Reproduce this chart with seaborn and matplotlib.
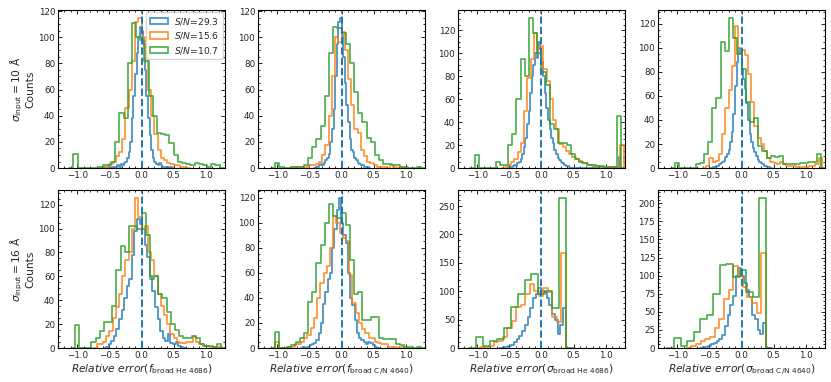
import numpy as np
import pandas as pd
import matplotlib
matplotlib.use("Agg")
import matplotlib.pyplot as plt
import seaborn as sns
from matplotlib.patches import Patch
from matplotlib.ticker import AutoMinorLocator

# S/N of the three mock sets (blue, orange, green)
sn_values = ["29.3", "15.6", "10.7"]
colors = ["#1f77b4", "#ff7f0e", "#2ca02c"]

# ---- counts (sigma_input = 10 A, top row) ----
fhe10_blue = [1, 0, 0, 1, 0, 1, 0, 1, 1, 2, 1, 3, 2, 4, 5, 8, 12, 20, 38, 55, 72, 88, 100, 108,
              105, 95, 75, 55, 38, 25, 14, 8, 5, 3, 2, 4, 2, 1, 1, 0, 1, 0, 1]
fhe10_orange = [1, 1, 3, 5, 9, 12, 22, 46, 60, 82, 112, 115, 100, 84, 60, 40, 26, 14, 8, 6, 4, 3,
                2, 2, 1, 1]
fhe10_green = [11, 0, 0, 0, 0, 0, 1, 2, 2, 5, 20, 42, 38, 80, 111, 100, 98, 82, 55, 40, 27, 26,
               25, 19, 10, 5, 4, 3, 2, 4, 3, 2, 1, 3, 2]

fce10_blue = [1, 1, 2, 3, 2, 4, 6, 8, 11, 20, 30, 45, 70, 95, 112, 115, 102, 85, 65, 48, 35, 22,
              14, 12, 8, 6, 4, 3, 2, 2, 1, 1, 1]
fce10_orange = [1, 0, 1, 0, 1, 2, 2, 3, 5, 10, 18, 40, 70, 100, 96, 104, 90, 68, 48, 30, 27, 14,
                9, 5, 4, 2, 1, 1, 1, 0, 2, 1, 0, 1]
fce10_green = [4, 1, 0, 0, 1, 1, 1, 2, 8, 16, 22, 32, 55, 88, 108, 107, 103, 95, 80, 58, 42, 35,
               23, 20, 10, 6, 3, 3, 2, 2, 1, 1, 0, 0, 1]

she10_blue = [1, 1, 2, 3, 2, 4, 5, 8, 12, 18, 26, 38, 50, 65, 80, 90, 100, 96, 110, 104, 92, 80,
              65, 52, 42, 34, 26, 22, 16, 12, 9, 7, 5, 4, 3, 2, 2, 1,
              0, 0, 0, 0, 0, 0, 0, 0, 0, 0, 0, 0, 0, 0, 0, 0, 0, 0, 0, 0, 0, 0, 0, 0, 0, 0,
              0, 0, 0, 0, 10]
she10_orange = [1, 3, 5, 8, 14, 22, 50, 78, 95, 118, 104, 106, 86, 76, 60, 42, 34, 21, 18, 15,
                12, 10, 8, 6, 4, 4, 3, 2, 2, 2, 1, 1, 1, 1, 1, 1, 20]
she10_green = [11, 0, 0, 0, 0, 5, 3, 3, 20, 30, 60, 95, 80, 131, 118, 100, 84, 72, 38, 34, 22, 22,
               20, 12, 8, 5, 4, 3, 3, 2, 2, 1, 1, 1, 45]

sce10_blue = [1, 1, 2, 2, 3, 4, 5, 6, 9, 12, 15, 22, 30, 45, 68, 88, 100, 96, 82, 74, 66, 54, 40,
              28, 22, 17, 13, 10, 7, 5, 4, 3, 2, 2, 1, 1]
sce10_orange = [2, 8, 5, 6, 12, 28, 50, 65, 85, 118, 95, 98, 94, 78, 55, 35, 25, 20, 14, 8, 5, 4,
                3, 5, 3, 2, 2, 2, 1, 1, 1, 1, 2, 2, 3, 8]
sce10_green = [4, 0, 0, 0, 0, 3, 4, 12, 22, 50, 58, 105, 97, 125, 108, 95, 82, 55, 38, 42, 18, 14,
               8, 10, 9, 10, 3, 3, 3, 3, 4, 4, 5, 5, 12]

# ---- counts (sigma_input = 16 A, bottom row) ----
fhe16_blue = [1, 3, 6, 10, 16, 24, 32, 42, 52, 58, 78, 98, 108, 104, 100, 86, 76, 60, 48, 34, 24,
              14, 8, 6, 12, 4, 3, 5, 2, 1]
fhe16_orange = [3, 3, 5, 10, 14, 25, 34, 45, 60, 74, 80, 100, 126, 110, 100, 102, 80, 74, 60, 45,
                35, 28, 20, 12, 8, 5, 4, 4, 5, 5, 9, 5, 3, 2, 2, 1, 1, 1, 1]
fhe16_green = [19, 0, 0, 0, 5, 8, 14, 22, 22, 35, 65, 85, 80, 102, 102, 100, 113, 95, 58, 60, 45,
               42, 30, 20, 15, 10, 8, 8, 10, 8, 3, 2, 2, 1, 3]

fce16_blue = [1, 0, 1, 2, 3, 4, 6, 12, 20, 35, 45, 55, 60, 80, 95, 110, 120, 100, 90, 84, 60, 40,
              34, 22, 12, 8, 6, 5, 3, 5, 4, 2, 1]
fce16_orange = [5, 0, 0, 0, 1, 1, 3, 3, 5, 8, 10, 16, 24, 40, 52, 60, 65, 80, 105, 100, 92, 88,
                85, 58, 36, 28, 20, 15, 12, 8, 8, 5, 4, 3, 3, 1, 1, 1, 0, 1]
fce16_green = [13, 0, 0, 1, 2, 5, 8, 12, 37, 45, 68, 82, 100, 115, 105, 104, 108, 98, 70, 43, 45,
               22, 22, 25, 25, 8, 7, 7, 7, 3, 2, 1, 1, 0, 1]

she16_blue = [1, 2, 3, 5, 10, 15, 22, 30, 40, 55, 70, 88, 95, 105, 100, 98, 88, 75, 60, 50, 25,
              40, 70]
she16_orange = [2, 0, 3, 10, 12, 20, 35, 48, 72, 76, 95, 112, 100, 92, 105, 98, 55, 45, 168]
she16_green = [20, 3, 12, 15, 35, 72, 95, 120, 130, 95, 100, 70, 265]

sce16_blue = [1, 2, 3, 5, 7, 10, 12, 18, 30, 45, 60, 72, 100, 110, 100, 90, 80, 70, 45, 40, 25,
              20, 35]
sce16_orange = [3, 5, 10, 12, 15, 28, 40, 68, 80, 113, 100, 85, 70, 62, 48, 132]
sce16_green = [14, 3, 10, 22, 40, 45, 75, 115, 116, 98, 108, 78, 70, 208]

# bins per panel: (first edge, bin width) for blue, orange, green
bin_setup = {
    "fhe10": [(-0.6, 0.025), (-0.6, 0.05), (-1.06, 0.065)],
    "fce10": [(-0.4, 0.025), (-0.75, 0.05), (-1.04, 0.065)],
    "she10": [(-0.5, 0.025), (-0.57, 0.05), (-1.04, 0.065)],
    "sce10": [(-0.45, 0.025), (-0.55, 0.05), (-1.04, 0.065)],
    "fhe16": [(-0.55, 0.04), (-0.7, 0.05), (-1.04, 0.065)],
    "fce16": [(-0.6, 0.035), (-1.03, 0.05), (-1.04, 0.065)],
    "she16": [(-0.6, 0.0425), (-0.95, 0.07), (-1.02, 0.108)],
    "sce16": [(-0.6, 0.0425), (-0.78, 0.0725), (-1.05, 0.102)],
}

panels = [
    [("fhe10", [fhe10_blue, fhe10_orange, fhe10_green]),
     ("fce10", [fce10_blue, fce10_orange, fce10_green]),
     ("she10", [she10_blue, she10_orange, she10_green]),
     ("sce10", [sce10_blue, sce10_orange, sce10_green])],
    [("fhe16", [fhe16_blue, fhe16_orange, fhe16_green]),
     ("fce16", [fce16_blue, fce16_orange, fce16_green]),
     ("she16", [she16_blue, she16_orange, she16_green]),
     ("sce16", [sce16_blue, sce16_orange, sce16_green])],
]

sigma_inputs = ["10", "16"]
x_labels = [r"$Relative\ error(f_{\rm broad\ He\ 4686})$",
            r"$Relative\ error(f_{\rm broad\ C/N\ 4640})$",
            r"$Relative\ error(\sigma_{\rm broad\ He\ 4686})$",
            r"$Relative\ error(\sigma_{\rm broad\ C/N\ 4640})$"]

sns.set_theme(style="ticks")
plt.rcParams["font.family"] = ["DejaVu Sans"]
plt.rcParams["mathtext.fontset"] = "dejavusans"

fig = plt.figure(figsize=(8.31, 3.82), dpi=100)
fig.patch.set_facecolor("white")

lefts = [0.0698, 0.3105, 0.5511, 0.7918]
bottoms = [0.560, 0.089]
w, h = 0.201, 0.4136
line_alpha = 0.8

for r, row in enumerate(panels):
    for c, (key, hists) in enumerate(row):
        ax = fig.add_axes([lefts[c], bottoms[r], w, h])
        for (start, width), counts, color in zip(bin_setup[key], hists, colors):
            n = len(counts)
            # pad with an empty bin on each side so the outline drops back to zero
            df = pd.DataFrame({"center": start + width * (np.arange(-1, n + 1) + 0.5),
                               "count": [0.0] + list(counts) + [0.0]})
            sns.histplot(data=df, x="center", weights="count", binwidth=width,
                         binrange=(start - width, start + (n + 1) * width),
                         element="step", fill=False, color=color, linewidth=1.3,
                         alpha=line_alpha, ax=ax)
        ax.axvline(0, color=colors[0], ls="--", lw=1.4)
        ax.set_xlim(-1.3, 1.3)
        ax.set_ylim(0, ax.get_ylim()[1])
        ax.set_xticks([-1.0, -0.5, 0.0, 0.5, 1.0])
        ax.xaxis.set_minor_locator(AutoMinorLocator())
        ax.yaxis.set_minor_locator(AutoMinorLocator())
        ax.tick_params(which="both", direction="in", top=True, right=True,
                       labelsize=6.3, width=0.7, pad=2)
        ax.tick_params(which="major", length=3)
        ax.tick_params(which="minor", length=1.6)
        for sp in ax.spines.values():
            sp.set_linewidth(0.8)
            sp.set_color("black")
        if c == 0:
            ax.set_ylabel(r"$\sigma_{\rm input}=" + sigma_inputs[r] + r"$ Å" + "\nCounts",
                          fontsize=7.7, labelpad=2, linespacing=1.1)
        else:
            ax.set_ylabel("")
        if r == 1:
            ax.set_xlabel(x_labels[c], fontsize=7.7, labelpad=2)
        else:
            ax.set_xlabel("")
        if r == 0 and c == 0:
            handles = [Patch(facecolor="none", edgecolor=col, linewidth=1.3, alpha=line_alpha)
                       for col in colors]
            labels = [r"$S/N$=" + s for s in sn_values]
            ax.legend(handles, labels, loc="upper right", fontsize=6.6, frameon=True,
                      handlelength=2.0, borderaxespad=0.25, labelspacing=0.4,
                      borderpad=0.35, handletextpad=0.7)

fig.savefig("out.png", dpi=100, facecolor="white")
